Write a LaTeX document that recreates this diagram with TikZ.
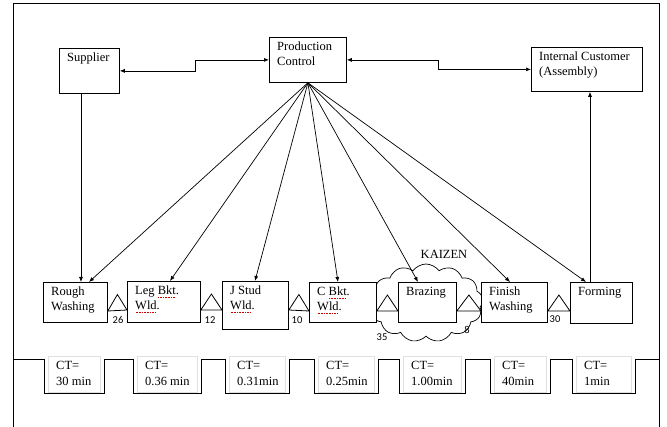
\documentclass[tikz,border=0pt]{standalone}
\usepackage{fontspec}
\setmainfont{Liberation Serif}
\newfontfamily\numfont{Carlito}
\usepackage{tikz}
\usetikzlibrary{arrows.meta, positioning, shapes.symbols, calc}

% spell-check dots under a word
\newsavebox\spellbox
\newcommand\spellmark[1]{\sbox\spellbox{#1}\rlap{\color{red!80!black}\raisebox{-2.5pt}{\hbox to\wd\spellbox{\leaders\hbox to 1.6pt{\hss\vrule width 0.9pt height 0.6pt\hss}\hfill}}}\usebox\spellbox}

\begin{document}
\begin{tikzpicture}[
  x=1pt, y=-1pt,
  box/.style={draw, fill=white, line width=0.8pt, anchor=north west, inner sep=0pt},
  tag/.style={anchor=north west, align=left, inner sep=0pt, xshift=8pt, yshift=-5pt,
              font=\fontsize{12.5}{15}\selectfont},
  ctbox/.style={draw=black!12, anchor=north west, inner sep=0pt, minimum height=36pt},
  cttag/.style={tag, font=\fontsize{12.5}{16.5}\selectfont},
  inv/.style={font=\numfont\fontsize{10.5}{12}\selectfont, inner sep=0pt},
  arr/.style={-{Latex[length=5pt, width=4pt]}, line width=0.7pt},
  dbl/.style={{Latex[length=5pt, width=4pt]}-{Latex[length=5pt, width=4pt]}, line width=0.7pt},
]
  \useasboundingbox (0,0) rectangle (667,427);
  % frame
  \draw[line width=0.9pt] (13,427) -- (13,3) -- (659,3) -- (659,427);

  % kaizen burst
  \node[cloud, draw, line width=0.7pt, cloud puffs=13, cloud puff arc=110, aspect=1.5,
        minimum width=114pt, minimum height=78pt, inner sep=0pt] (kz) at (426,303) {};
  \node[font=\fontsize{12.5}{15}\selectfont] (kzlabel) at (444,254) {KAIZEN};

  % top row
  \node[box, minimum width=60pt, minimum height=45pt, label={[tag]north west:Supplier}] (sup) at (59,48) {};
  \node[box, minimum width=77pt, minimum height=45pt, label={[tag]north west:Production\\Control}] (pc) at (269,37) {};
  \node[box, minimum width=111pt, minimum height=44pt, label={[tag]north west:Internal Customer\\(Assembly)}] (ic) at (531,47) {};

  % process boxes
  \node[box, minimum width=64pt, minimum height=40pt, label={[tag]north west:Rough\\Washing}] (rw) at (43,282) {};
  \node[box, minimum width=73pt, minimum height=41pt, label={[tag]north west:Leg \spellmark{Bkt}.\\\spellmark{Wld}.}] (leg) at (127,281) {};
  \node[box, minimum width=66pt, minimum height=48pt, label={[tag]north west:J Stud\\\spellmark{Wld}.}] (js) at (222,281) {};
  \node[box, minimum width=67pt, minimum height=40pt, label={[tag]north west:C \spellmark{Bkt}.\\\spellmark{Wld}.}] (cb) at (309,282) {};
  \node[box, minimum width=58pt, minimum height=40pt, label={[tag]north west:Brazing}] (br) at (398,282) {};
  \node[box, minimum width=66pt, minimum height=40pt, label={[tag]north west:Finish\\Washing}] (fw) at (481,282) {};
  \node[box, minimum width=62pt, minimum height=41pt, label={[tag]north west:Forming}] (fo) at (570,282) {};

  % inventory triangles
  \foreach \a/\b in {rw/leg, leg/js, js/cb, cb/br, br/fw, fw/fo}
    \draw[line width=0.8pt, fill=white] ($(\a.north east)+(0,29)$)
      -- ($(\a.north east)!0.5!(\b.north west)+(0,13)$)
      -- ($(\b.north west)+(0,29)$) -- cycle;
  \node[inv] (inv1) at (118,320) {26};
  \node[inv] (inv2) at (210,320) {12};
  \node[inv] (inv3) at (297,320) {10};
  \node[inv] (inv4) at (382,337) {35};
  \node[inv] (inv5) at (467,330) {8};
  \node[inv] (inv6) at (555,319) {30};

  % information flow
  \draw[dbl] (sup.east) -- (195,0 |- sup.east) |- (pc.west);
  \draw[dbl] (pc.east) -- (438,0 |- pc.east) |- (ic.west);
  \draw[arr] (81,0 |- sup.south) -- (81,0 |- rw.north);
  \draw[arr] (590,0 |- fo.north) -- (590,0 |- ic.south);
  \foreach \t/\x in {rw/89, leg/170, js/255, cb/338, br/418, fw/510, fo/586}
    \draw[arr] (pc.south) -- (\x,0 |- \t.north);

  % cycle times
  \node[ctbox, minimum width=52pt, label={[cttag]north west:CT=\\30 min}] (ct1) at (48,356) {};
  \node[ctbox, minimum width=60pt, label={[cttag]north west:CT=\\0.36 min}] (ct2) at (137,356) {};
  \node[ctbox, minimum width=56pt, label={[cttag]north west:CT=\\0.31min}] (ct3) at (229,356) {};
  \node[ctbox, minimum width=56pt, label={[cttag]north west:CT=\\0.25min}] (ct4) at (318,356) {};
  \node[ctbox, minimum width=58pt, label={[cttag]north west:CT=\\1.00min}] (ct5) at (403,356) {};
  \node[ctbox, minimum width=52pt, label={[cttag]north west:CT=\\40min}] (ct6) at (494,356) {};
  \node[ctbox, minimum width=55pt, label={[cttag]north west:CT=\\1min}] (ct7) at (576,356) {};
  \draw[line width=0.8pt] (13,359) -- (44,359) -- (44,393) -- (104,393) -- (104,359)
    -- (133,359) -- (133,393) -- (201,393) -- (201,359)
    -- (225,359) -- (225,393) -- (289,393) -- (289,359)
    -- (314,359) -- (314,393) -- (378,393) -- (378,359)
    -- (399,359) -- (399,393) -- (465,393) -- (465,359)
    -- (490,359) -- (490,393) -- (550,393) -- (550,359)
    -- (572,359) -- (572,393) -- (635,393) -- (635,359) -- (659,359);
\end{tikzpicture}
\end{document}
